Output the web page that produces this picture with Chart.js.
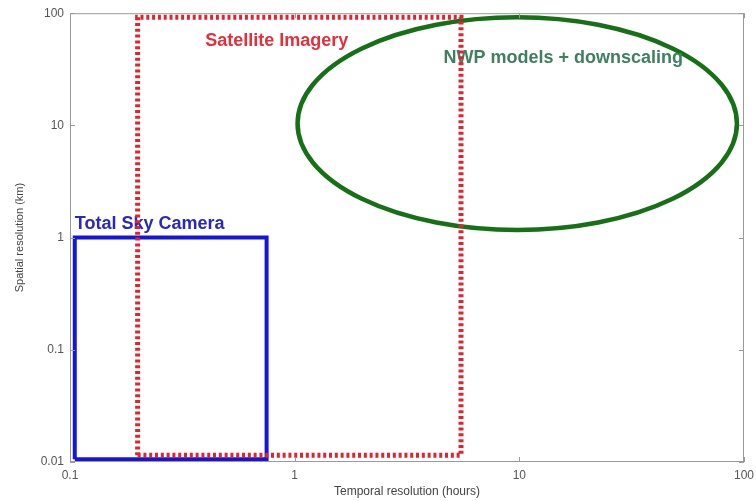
<!DOCTYPE html>
<html>
<head>
<meta charset="utf-8">
<script src="https://cdn.jsdelivr.net/npm/chart.js@4"></script>
<style>
    html, body { margin: 0; padding: 0; background: #fff; }
    #wrap { width: 756px; height: 501px; }
</style>
</head>
<body>
<div id="wrap"><canvas id="resChart"></canvas></div>
<script>
/* ======================================================
   DATA
====================================================== */
const xTicks = [0.1, 1, 10, 100];
const yTicks = [0.01, 0.1, 1, 10, 100];

// Total Sky Camera box (hours, km)
const skyCamX = [0.105, 0.105, 0.75, 0.75, 0.105];
const skyCamY = [0.0106, 1, 1, 0.0106, 0.0106];

// Satellite imagery box
const satX = [0.2, 0.2, 5.5, 5.5, 0.2];
const satY = [0.0115, 92, 92, 0.0115, 0.0115];

// NWP ellipse extents [min, max]
const nwpX = [1.03, 93];
const nwpY = [1.17, 92];

// label anchors (left edge, middle)
const labels = [
    { text: 'Satellite Imagery', x: 0.4, y: 56, color: 'rgb(228,48,58)' },
    { text: 'NWP models + downscaling', x: 4.6, y: 40, color: 'rgb(62,128,96)' },
    { text: 'Total Sky Camera', x: 0.105, y: 1.32, color: 'rgb(40,40,190)' }
];

const toPoints = (xs, ys) => xs.map((x, i) => ({ x, y: ys[i] }));

/* ======================================================
   PLUGIN: frame, inward ticks, ellipse, labels
====================================================== */
const decor = {
    id: 'decor',
    beforeDatasetsDraw(chart) {
        const { ctx, scales: { x, y } } = chart;
        ctx.save();

        // NWP ellipse
        const l = x.getPixelForValue(nwpX[0]);
        const r = x.getPixelForValue(nwpX[1]);
        const t = y.getPixelForValue(nwpY[1]);
        const b = y.getPixelForValue(nwpY[0]);
        ctx.beginPath();
        ctx.ellipse((l + r) / 2, (t + b) / 2, (r - l) / 2, (b - t) / 2, 0, 0, Math.PI * 2);
        ctx.strokeStyle = 'rgb(22,112,22)';
        ctx.lineWidth = 4.5;
        ctx.stroke();

        // labels
        ctx.font = 'bold 18px "Liberation Sans", Arial, sans-serif';
        ctx.textBaseline = 'middle';
        ctx.textAlign = 'left';
        labels.forEach(lb => {
            ctx.fillStyle = lb.color;
            ctx.fillText(lb.text, x.getPixelForValue(lb.x), y.getPixelForValue(lb.y));
        });
        ctx.restore();
    },
    afterDraw(chart) {
        const { ctx, chartArea: a, scales: { x, y } } = chart;
        ctx.save();
        ctx.strokeStyle = '#9a9a9a';
        ctx.lineWidth = 1;
        ctx.strokeRect(a.left + 0.5, a.top + 0.5, a.right - a.left - 1, a.bottom - a.top - 1);

        ctx.beginPath();
        xTicks.forEach(v => {
            const px = Math.round(x.getPixelForValue(v)) + 0.5;
            ctx.moveTo(px, a.bottom); ctx.lineTo(px, a.bottom - 5);
            ctx.moveTo(px, a.top); ctx.lineTo(px, a.top + 5);
        });
        yTicks.forEach(v => {
            const py = Math.round(y.getPixelForValue(v)) + 0.5;
            ctx.moveTo(a.left, py); ctx.lineTo(a.left + 5, py);
            ctx.moveTo(a.right, py); ctx.lineTo(a.right - 5, py);
        });
        ctx.stroke();
        ctx.restore();
    }
};

/* ======================================================
   CHART
====================================================== */
const keepTicks = list => scale => {
    scale.ticks = list.map(v => ({ value: v }));
};

new Chart(document.getElementById('resChart'), {
    type: 'line',
    data: {
        datasets: [
            {
                label: 'Satellite Imagery',
                data: toPoints(satX, satY),
                borderColor: 'rgb(225,35,45)',
                borderWidth: 5,
                borderDash: [3, 2.8],
                borderCapStyle: 'butt',
                pointRadius: 0,
                tension: 0,
                fill: false
            },
            {
                label: 'Total Sky Camera',
                data: toPoints(skyCamX, skyCamY),
                borderColor: 'rgb(20,20,225)',
                borderWidth: 4,
                borderJoinStyle: 'miter',
                pointRadius: 0,
                tension: 0,
                fill: false
            }
        ]
    },
    options: {
        responsive: true,
        maintainAspectRatio: false,
        animation: false,
        layout: { padding: { top: 11, right: 12, left: 0, bottom: 0 } },
        plugins: {
            legend: { display: false },
            tooltip: { enabled: false }
        },
        scales: {
            x: {
                type: 'logarithmic',
                min: 0.1,
                max: 100,
                afterBuildTicks: keepTicks(xTicks),
                afterFit: s => { s.height = 39; s.paddingRight = 0; s.paddingLeft = 0; },
                grid: { display: false, drawTicks: false },
                border: { display: false },
                ticks: {
                    autoSkip: false,
                    maxRotation: 0,
                    padding: 6,
                    color: '#555',
                    font: { family: '"Liberation Sans", Arial, sans-serif', size: 12 },
                    callback: v => String(v)
                },
                title: {
                    display: true,
                    text: 'Temporal resolution (hours)',
                    color: '#444',
                    padding: { top: 0, bottom: 2 },
                    font: { family: '"Liberation Sans", Arial, sans-serif', size: 12 }
                }
            },
            y: {
                type: 'logarithmic',
                min: 0.01,
                max: 100,
                afterBuildTicks: keepTicks(yTicks),
                afterFit: s => { s.width = 70; },
                grid: { display: false, drawTicks: false },
                border: { display: false },
                ticks: {
                    autoSkip: false,
                    padding: 6,
                    color: '#555',
                    font: { family: '"Liberation Sans", Arial, sans-serif', size: 12 },
                    callback: v => String(v)
                },
                title: {
                    display: true,
                    text: 'Spatial resolution (km)',
                    color: '#444',
                    padding: { top: 13, bottom: 0 },
                    font: { family: '"Liberation Sans", Arial, sans-serif', size: 11 }
                }
            }
        }
    },
    plugins: [decor]
});
</script>
</body>
</html>
